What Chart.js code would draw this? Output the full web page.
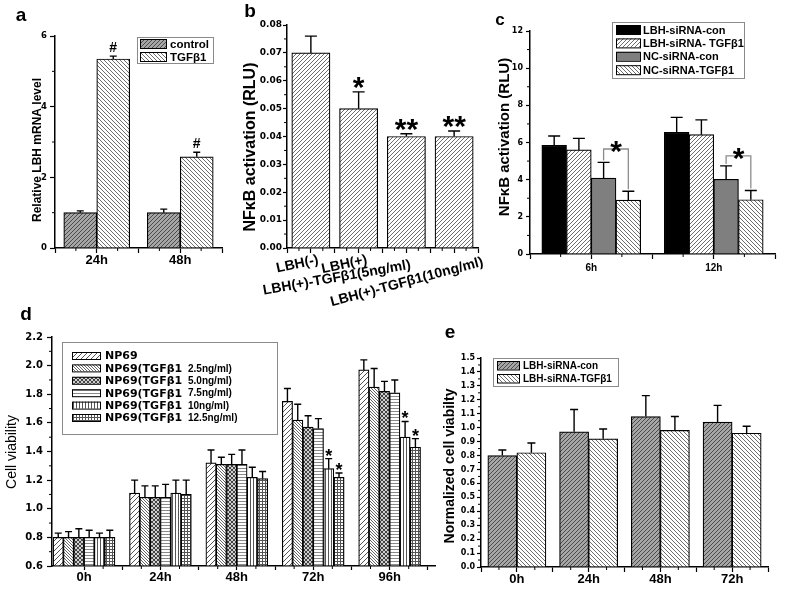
<!DOCTYPE html>
<html>
<head>
<meta charset="utf-8">
<script src="https://cdn.jsdelivr.net/npm/chart.js@4.4.1/dist/chart.umd.min.js"></script>
<style>
  html, body { margin: 0; padding: 0; background: #fff; }
  body { width: 787px; height: 590px; position: relative; overflow: hidden; }
  canvas { position: absolute; }
</style>
</head>
<body>
<canvas id="chartA" width="250" height="290" style="left:0;top:0"></canvas>
<canvas id="chartB" width="270" height="310" style="left:230px;top:0"></canvas>
<canvas id="chartC" width="297" height="290" style="left:490px;top:0"></canvas>
<canvas id="chartD" width="445" height="300" style="left:0;top:290px"></canvas>
<canvas id="chartE" width="357" height="300" style="left:430px;top:290px"></canvas>
<script>
// ---- panel a: LBH mRNA ----
const catsA = ["24h", "48h"];
const controlA = [1.0, 1.0];
const controlErrA = [0.05, 0.10];
const tgfA = [5.35, 2.58];
const tgfErrA = [0.08, 0.13];
const tgfMarkA = ["#", "#"];
const yTicksA = [0, 2, 4, 6];

// ---- panel b: NFkB activation ----
const catsB = ["LBH(-)", "LBH(+)", "LBH(+)-TGFβ1(5ng/ml)", "LBH(+)-TGFβ1(10ng/ml)"];
const rluB = [0.070, 0.050, 0.040, 0.040];
const rluErrB = [0.006, 0.006, 0.001, 0.002];
const rluMarkB = ["", "*", "**", "**"];
const yTicksB = [0, 0.01, 0.02, 0.03, 0.04, 0.05, 0.06, 0.07, 0.08];

// ---- panel c: NFkB activation, siRNA ----
const catsC = ["6h", "12h"];
const seriesC = ["LBH-siRNA-con", "LBH-siRNA- TGFβ1", "NC-siRNA-con", "NC-siRNA-TGFβ1"];
const lbhConC = [5.85, 6.55];
const lbhConErrC = [0.50, 0.80];
const lbhTgfC = [5.60, 6.42];
const lbhTgfErrC = [0.62, 0.80];
const ncConC = [4.08, 4.02];
const ncConErrC = [0.85, 0.72];
const ncTgfC = [2.90, 2.92];
const ncTgfErrC = [0.48, 0.50];
const bracketC = [5.65, 5.28];
const yTicksC = [0, 2, 4, 6, 8, 10, 12];

// ---- panel d: cell viability ----
const catsD = ["0h", "24h", "48h", "72h", "96h"];
const seriesD = ["NP69", "NP69(TGFβ1  2.5ng/ml)", "NP69(TGFβ1  5.0ng/ml)",
  "NP69(TGFβ1  7.5ng/ml)", "NP69(TGFβ1  10ng/ml)", "NP69(TGFβ1  12.5ng/ml)"];
const np69D = [0.80, 1.11, 1.32, 1.75, 1.97];
const np69ErrD = [0.03, 0.09, 0.09, 0.09, 0.07];
const tgf25D = [0.80, 1.08, 1.31, 1.62, 1.85];
const tgf25ErrD = [0.04, 0.08, 0.05, 0.11, 0.13];
const tgf50D = [0.80, 1.08, 1.31, 1.57, 1.82];
const tgf50ErrD = [0.06, 0.08, 0.07, 0.08, 0.07];
const tgf75D = [0.80, 1.08, 1.31, 1.56, 1.81];
const tgf75ErrD = [0.05, 0.09, 0.10, 0.07, 0.09];
const tgf10D = [0.80, 1.11, 1.22, 1.28, 1.50];
const tgf10ErrD = [0.03, 0.09, 0.07, 0.07, 0.11];
const tgf125D = [0.80, 1.10, 1.21, 1.22, 1.43];
const tgf125ErrD = [0.05, 0.10, 0.05, 0.03, 0.06];
const markD = ["", "", "", "*", "*"];
const yTicksD = [0.6, 0.8, 1.0, 1.2, 1.4, 1.6, 1.8, 2.0, 2.2];

// ---- panel e: normalized viability ----
const catsE = ["0h", "24h", "48h", "72h"];
const seriesE = ["LBH-siRNA-con", "LBH-siRNA-TGFβ1"];
const conE = [0.80, 0.97, 1.08, 1.04];
const conErrE = [0.04, 0.16, 0.15, 0.12];
const tgfE = [0.82, 0.92, 0.98, 0.96];
const tgfErrE = [0.07, 0.07, 0.10, 0.05];
const yTicksE = [0, 0.1, 0.2, 0.3, 0.4, 0.5, 0.6, 0.7, 0.8, 0.9, 1.0, 1.1, 1.2, 1.3, 1.4, 1.5];

const SANS = "'Liberation Sans', Arial, sans-serif";
const WIDE = "'DejaVu Sans', sans-serif";
Chart.defaults.font.family = SANS;
Chart.defaults.color = "#000";

// hatch fills
function hatch(kind, bg, fg, size, lw) {
  const c = document.createElement("canvas");
  c.width = size; c.height = size;
  const g = c.getContext("2d");
  g.fillStyle = bg; g.fillRect(0, 0, size, size);
  g.strokeStyle = fg; g.lineWidth = lw;
  g.beginPath();
  const s = size;
  if (kind === "/" || kind === "x") {
    g.moveTo(0, s); g.lineTo(s, 0);
    g.moveTo(-1, 1); g.lineTo(1, -1);
    g.moveTo(s - 1, s + 1); g.lineTo(s + 1, s - 1);
  }
  if (kind === "\\" || kind === "x") {
    g.moveTo(0, 0); g.lineTo(s, s);
    g.moveTo(-1, s - 1); g.lineTo(1, s + 1);
    g.moveTo(s - 1, -1); g.lineTo(s + 1, 1);
  }
  if (kind === "-" || kind === "+") { g.moveTo(0, s / 2); g.lineTo(s, s / 2); }
  if (kind === "|" || kind === "+") { g.moveTo(s / 2, 0); g.lineTo(s / 2, s); }
  g.stroke();
  return g.createPattern(c, "repeat");
}

const pts = arr => arr.map((y, x) => ({ x, y }));
const extras = {};

// error bars + marks above them
const errorBars = {
  id: "errorBars",
  afterDatasetsDraw(chart) {
    const ex = extras[chart.canvas.id];
    const ctx = chart.ctx, ys = chart.scales.y;
    ctx.save();
    chart.data.datasets.forEach((ds, di) => {
      if (!ds.errors) return;
      chart.getDatasetMeta(di).data.forEach((bar, i) => {
        const top = ys.getPixelForValue(ds.data[i].y + ds.errors[i]);
        ctx.strokeStyle = "#000"; ctx.lineWidth = 1.4;
        ctx.beginPath();
        ctx.moveTo(bar.x, bar.y); ctx.lineTo(bar.x, top);
        ctx.moveTo(bar.x - ex.cap / 2, top); ctx.lineTo(bar.x + ex.cap / 2, top);
        ctx.stroke();
        if (ds.marks && ds.marks[i]) {
          ctx.font = ex.markFont; ctx.fillStyle = "#000";
          ctx.textAlign = "center"; ctx.textBaseline = "alphabetic";
          ctx.fillText(ds.marks[i], bar.x, top + ex.markShift);
        }
      });
    });
    ctx.restore();
  }
};

// significance brackets (panel c)
const brackets = {
  id: "brackets",
  afterDatasetsDraw(chart) {
    const ex = extras[chart.canvas.id];
    if (!ex.brackets) return;
    const br = ex.brackets, ctx = chart.ctx, ys = chart.scales.y;
    const da = chart.data.datasets[br.pair[0]], db = chart.data.datasets[br.pair[1]];
    const ma = chart.getDatasetMeta(br.pair[0]), mb = chart.getDatasetMeta(br.pair[1]);
    ctx.save();
    br.levels.forEach((lv, i) => {
      const y = ys.getPixelForValue(lv);
      const xa = ma.data[i].x, xb = mb.data[i].x;
      const ya = ys.getPixelForValue(da.data[i].y + da.errors[i]) - 2;
      const yb = ys.getPixelForValue(db.data[i].y + db.errors[i]) - 2;
      ctx.strokeStyle = "#8c8c8c"; ctx.lineWidth = 1.3;
      ctx.beginPath();
      ctx.moveTo(xa, ya); ctx.lineTo(xa, y); ctx.lineTo(xb, y); ctx.lineTo(xb, yb);
      ctx.stroke();
      ctx.fillStyle = "#000"; ctx.font = br.font;
      ctx.textAlign = "center"; ctx.textBaseline = "alphabetic";
      ctx.fillText(br.text, (xa + xb) / 2, y + br.shift);
    });
    ctx.restore();
  }
};

// slanted category labels (panel b), anchored on the x scale
const slantLabels = {
  id: "slantLabels",
  afterDraw(chart) {
    const sl = extras[chart.canvas.id].slant;
    if (!sl) return;
    const ctx = chart.ctx, xs = chart.scales.x;
    sl.cats.forEach((t, i) => {
      ctx.save();
      ctx.translate(xs.getPixelForValue(i) + sl.dx[i], xs.top + sl.dy[i]);
      ctx.rotate(-sl.rot[i] * Math.PI / 180);
      ctx.font = sl.font; ctx.fillStyle = "#000";
      ctx.textAlign = "right"; ctx.textBaseline = "top";
      ctx.fillText(t, 0, 0);
      ctx.restore();
    });
  }
};

// boxed legend like the Origin one
const boxLegend = {
  id: "boxLegend",
  afterDraw(chart) {
    const lg = extras[chart.canvas.id].legend;
    if (!lg) return;
    const ctx = chart.ctx;
    ctx.save();
    ctx.strokeStyle = "#8a8a8a"; ctx.lineWidth = 1;
    ctx.strokeRect(lg.box[0] + 0.5, lg.box[1] + 0.5, lg.box[2], lg.box[3]);
    chart.data.datasets.forEach((ds, i) => {
      const y = lg.rowTop + i * lg.rowStep;
      ctx.fillStyle = ds.backgroundColor;
      ctx.fillRect(lg.swX, y, lg.swW, lg.swH);
      ctx.strokeStyle = "#000"; ctx.lineWidth = 1;
      ctx.strokeRect(lg.swX + 0.5, y + 0.5, lg.swW, lg.swH);
      const parts = ds.label.split("  ");
      ctx.fillStyle = "#000"; ctx.textBaseline = "middle"; ctx.textAlign = "left";
      ctx.font = lg.font;
      ctx.fillText(parts[0], lg.textX, y + lg.swH / 2 + 1);
      if (parts[1]) {
        ctx.font = lg.subFont;
        ctx.fillText(parts[1], lg.subX, y + lg.swH / 2 + 1);
      }
    });
    ctx.restore();
  }
};

// panel letters and axis titles
const panelText = {
  id: "panelText",
  afterDraw(chart) {
    const ctx = chart.ctx;
    extras[chart.canvas.id].texts.forEach(t => {
      ctx.save();
      ctx.fillStyle = "#000"; ctx.font = t.font;
      ctx.textAlign = "center"; ctx.textBaseline = "middle";
      ctx.translate(t.x, t.y);
      if (t.rot) ctx.rotate(-Math.PI / 2);
      ctx.fillText(t.text, 0, 0);
      ctx.restore();
    });
  }
};

// small ticks halfway between major ticks
const minorTicks = {
  id: "minorTicks",
  afterDraw(chart) {
    const ctx = chart.ctx, xs = chart.scales.x, ys = chart.scales.y;
    ctx.save();
    ctx.strokeStyle = "#000"; ctx.lineWidth = 1;
    ctx.beginPath();
    for (let i = 1; i < xs.ticks.length; i++) {
      const px = (xs.getPixelForValue(xs.ticks[i - 1].value) + xs.getPixelForValue(xs.ticks[i].value)) / 2;
      ctx.moveTo(px, xs.top); ctx.lineTo(px, xs.top + 3);
    }
    for (let i = 1; i < ys.ticks.length; i++) {
      const py = (ys.getPixelForValue(ys.ticks[i - 1].value) + ys.getPixelForValue(ys.ticks[i].value)) / 2;
      ctx.moveTo(ys.right - 3, py); ctx.lineTo(ys.right, py);
    }
    ctx.stroke();
    ctx.restore();
  }
};

function yAxis(ticks, o) {
  return {
    type: "linear", position: "left",
    min: ticks[0], max: ticks[ticks.length - 1],
    afterBuildTicks: s => { s.ticks = ticks.map(v => ({ value: v })); },
    afterFit: s => { s.width = o.width; s.paddingTop = 0; s.paddingBottom = 0; },
    grid: { display: true, drawOnChartArea: false, drawTicks: true, tickLength: o.tl, tickColor: "#000", tickWidth: 1.2 },
    border: { display: true, color: "#000", width: 1.5 },
    ticks: { padding: o.pad, font: o.font, color: "#000", callback: v => v.toFixed(o.dec) }
  };
}

function xAxis(cats, o) {
  const min = o.min !== undefined ? o.min : -0.5;
  const max = o.max !== undefined ? o.max : cats.length - 0.5;
  const ticks = [];
  for (let v = Math.ceil(min * 2) / 2; v <= max + 1e-9; v += 0.5) ticks.push(v + 0);
  return {
    type: "linear", position: "bottom", min, max, offset: false,
    afterBuildTicks: s => { s.ticks = ticks.map(v => ({ value: v })); },
    afterFit: s => { s.height = o.height; s.paddingLeft = 0; s.paddingRight = 0; },
    grid: { display: true, offset: false, drawOnChartArea: false, drawTicks: true, tickLength: o.tl, tickColor: "#000", tickWidth: 1.2 },
    border: { display: true, color: "#000", width: 1.5 },
    ticks: {
      autoSkip: false, maxRotation: 0, minRotation: 0,
      padding: o.pad, font: o.font, color: "#000",
      callback: v => (!o.hide && Number.isInteger(v) ? cats[v] : "")
    }
  };
}

function panel(id, cfg) {
  extras[id] = cfg.extras;
  const cv = document.getElementById(id);
  return new Chart(cv, {
    type: "bar",
    data: { datasets: cfg.datasets },
    options: {
      responsive: false, animation: false, devicePixelRatio: 1,
      layout: { autoPadding: false, padding: { left: 0, top: cfg.area.top, right: cv.width - cfg.area.right, bottom: 0 } },
      plugins: { legend: { display: false }, tooltip: { enabled: false } },
      datasets: { bar: { barThickness: "flex", categoryPercentage: cfg.catPct, barPercentage: 1, borderColor: "#000", borderWidth: 1.2, base: cfg.base } },
      scales: {
        x: xAxis(cfg.cats, Object.assign({ height: cv.height - cfg.area.bottom }, cfg.x)),
        y: yAxis(cfg.yTicks, Object.assign({ width: cfg.area.left }, cfg.y))
      }
    },
    plugins: [errorBars, brackets, minorTicks, boxLegend, slantLabels, panelText]
  });
}

const bold = (px, fam) => "bold " + px + "px " + (fam || SANS);

// a
panel("chartA", {
  cats: catsA, yTicks: yTicksA, catPct: 0.79,
  area: { left: 55, top: 36, right: 222, bottom: 248 },
  x: { tl: 5, pad: 0, font: { size: 13, weight: "bold" } },
  y: { tl: 5, pad: 3, dec: 0, font: { size: 8.5, weight: "bold", family: WIDE } },
  datasets: [
    { label: "control", data: pts(controlA), errors: controlErrA, backgroundColor: hatch("/", "#a6a6a6", "#4a4a4a", 4, 1) },
    { label: "TGFβ1", data: pts(tgfA), errors: tgfErrA, marks: tgfMarkA, backgroundColor: hatch("\\", "#ffffff", "#6e6e6e", 4, 1) }
  ],
  extras: {
    cap: 7, markFont: bold(14), markShift: -4,
    legend: { box: [137, 37, 76, 26], swX: 140, swW: 26, swH: 9, rowTop: 39, rowStep: 13, textX: 170, font: bold(11.5) },
    texts: [
      { text: "a", x: 21, y: 16, font: bold(19) },
      { text: "Relative LBH mRNA level", x: 38, y: 150, rot: true, font: bold(12) }
    ]
  }
});

// b
panel("chartB", {
  cats: catsB, yTicks: yTicksB, catPct: 0.8,
  area: { left: 57, top: 25, right: 248, bottom: 248 },
  x: { tl: 5, pad: 2, hide: true, font: { size: 14, weight: "bold" } },
  y: { tl: 4, pad: 1, dec: 2, font: { size: 9, weight: "bold", family: WIDE } },
  datasets: [
    { label: "NFκB", data: pts(rluB), errors: rluErrB, marks: rluMarkB, backgroundColor: hatch("/", "#ffffff", "#6e6e6e", 4, 1) }
  ],
  extras: {
    cap: 12, markFont: bold(30), markShift: 5,
    slant: { cats: catsB, dx: [6, 7, 3, 27], dy: [5, 5, 10, 7], rot: [12, 12, 10, 15], font: bold(14) },
    texts: [
      { text: "b", x: 20, y: 12, font: bold(19) },
      { text: "NFκB activation (RLU)", x: 21, y: 147, rot: true, font: bold(16) }
    ]
  }
});

// c
panel("chartC", {
  cats: catsC, yTicks: yTicksC, catPct: 0.807,
  area: { left: 40, top: 31, right: 285, bottom: 254 },
  x: { tl: 5, pad: 3, font: { size: 10, weight: "bold" } },
  y: { tl: 4, pad: 3, dec: 0, font: { size: 8, weight: "bold", family: WIDE } },
  datasets: [
    { label: seriesC[0], data: pts(lbhConC), errors: lbhConErrC, backgroundColor: "#000000" },
    { label: seriesC[1], data: pts(lbhTgfC), errors: lbhTgfErrC, backgroundColor: hatch("/", "#ffffff", "#6e6e6e", 4, 1) },
    { label: seriesC[2], data: pts(ncConC), errors: ncConErrC, backgroundColor: "#7f7f7f" },
    { label: seriesC[3], data: pts(ncTgfC), errors: ncTgfErrC, backgroundColor: hatch("\\", "#ffffff", "#6e6e6e", 4, 1) }
  ],
  extras: {
    cap: 12, markFont: bold(30), markShift: 5,
    brackets: { levels: bracketC, pair: [2, 3], text: "*", font: bold(30), shift: 12 },
    legend: { box: [122, 22, 132, 56], swX: 126, swW: 24, swH: 9, rowTop: 25, rowStep: 13.4, textX: 153, font: bold(11) },
    texts: [
      { text: "c", x: 10, y: 20, font: bold(17) },
      { text: "NFκB activation (RLU)", x: 15, y: 137, rot: true, font: bold(15) }
    ]
  }
});

// d
panel("chartD", {
  cats: catsD, yTicks: yTicksD, catPct: 0.81, base: yTicksD[0],
  area: { left: 52, top: 47, right: 435, bottom: 276 },
  x: { tl: 4, pad: 0, min: -0.419, max: 4.594, font: { size: 13, weight: "bold" } },
  y: { tl: 5, pad: 4, dec: 1, font: { size: 10, weight: "bold", family: WIDE } },
  datasets: [
    { label: seriesD[0], data: pts(np69D), errors: np69ErrD, backgroundColor: hatch("/", "#ffffff", "#555555", 5, 1) },
    { label: seriesD[1], data: pts(tgf25D), errors: tgf25ErrD, backgroundColor: hatch("\\", "#ffffff", "#555555", 3, 0.9) },
    { label: seriesD[2], data: pts(tgf50D), errors: tgf50ErrD, backgroundColor: hatch("x", "#d0d0d0", "#444444", 4, 1) },
    { label: seriesD[3], data: pts(tgf75D), errors: tgf75ErrD, backgroundColor: hatch("-", "#ffffff", "#8a8a8a", 3, 1) },
    { label: seriesD[4], data: pts(tgf10D), errors: tgf10ErrD, marks: markD, backgroundColor: hatch("|", "#ffffff", "#555555", 3, 1) },
    { label: seriesD[5], data: pts(tgf125D), errors: tgf125ErrD, marks: markD, backgroundColor: hatch("+", "#ffffff", "#555555", 3, 1) }
  ],
  extras: {
    cap: 7, markFont: bold(18), markShift: 3,
    legend: { box: [62, 52, 215, 92], swX: 72, swW: 28, swH: 7, rowTop: 62, rowStep: 12.4, textX: 105, font: bold(11, WIDE), subX: 188, subFont: bold(10) },
    texts: [
      { text: "d", x: 26, y: 25, font: bold(19) },
      { text: "Cell viability", x: 12, y: 162, rot: true, font: "14px " + SANS }
    ]
  }
});

// e
panel("chartE", {
  cats: catsE, yTicks: yTicksE, catPct: 0.81,
  area: { left: 51, top: 68, right: 338, bottom: 277 },
  x: { tl: 5, pad: 0, font: { size: 13, weight: "bold" } },
  y: { tl: 4, pad: 2, dec: 1, font: { size: 8, weight: "bold", family: WIDE } },
  datasets: [
    { label: seriesE[0], data: pts(conE), errors: conErrE, backgroundColor: hatch("/", "#a6a6a6", "#4a4a4a", 4, 1) },
    { label: seriesE[1], data: pts(tgfE), errors: tgfErrE, backgroundColor: hatch("\\", "#ffffff", "#6e6e6e", 4, 1) }
  ],
  extras: {
    cap: 8, markFont: bold(14), markShift: 0,
    legend: { box: [63, 68, 125, 28], swX: 67, swW: 22, swH: 8.5, rowTop: 71, rowStep: 13, textX: 93, font: bold(10) },
    texts: [
      { text: "e", x: 20, y: 43, font: bold(19) },
      { text: "Normalized cell viabilty", x: 20, y: 176, rot: true, font: bold(14) }
    ]
  }
});
</script>
</body>
</html>
